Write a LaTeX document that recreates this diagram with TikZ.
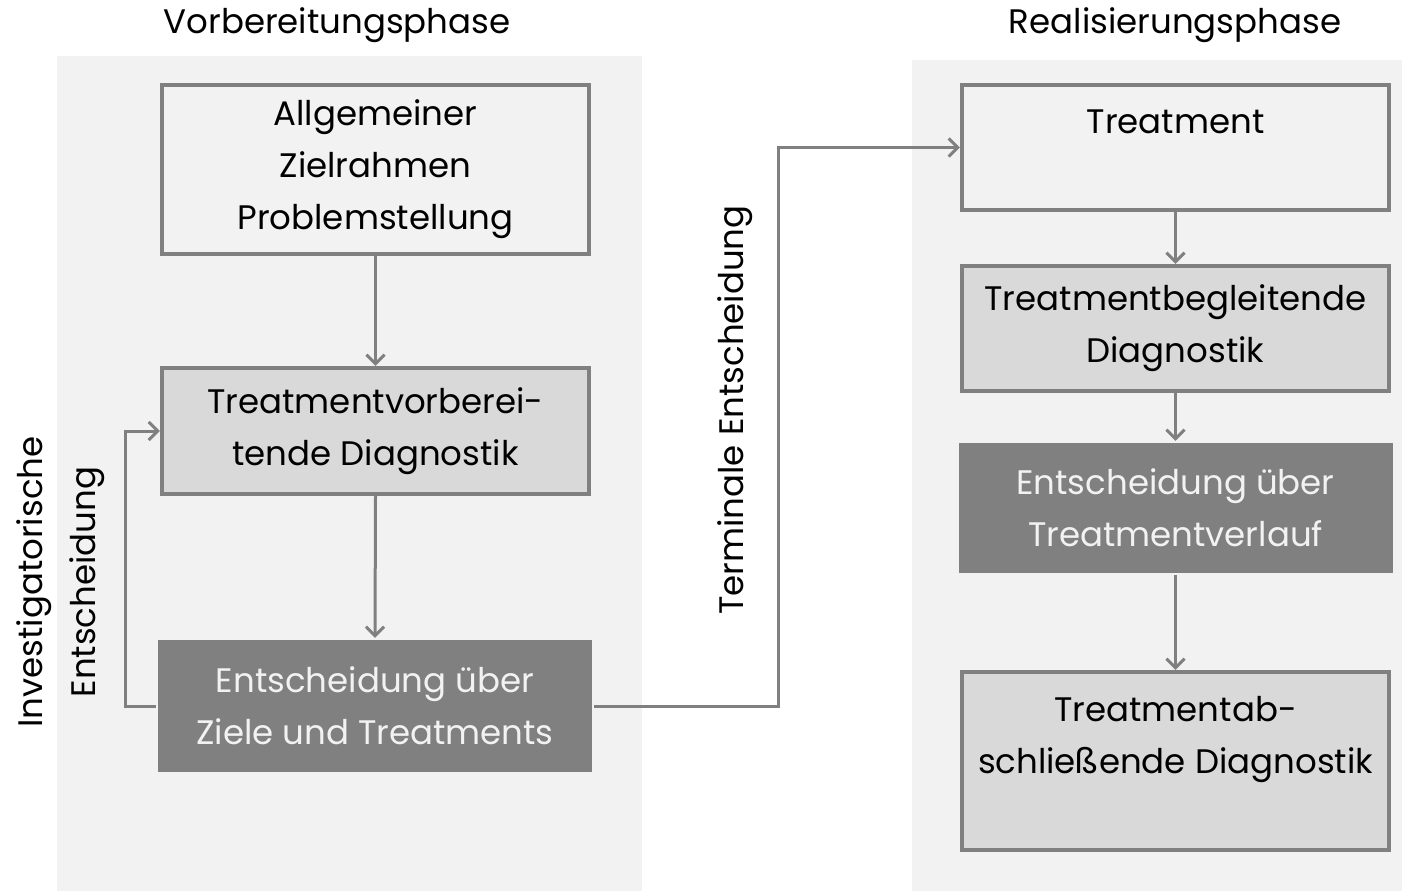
\documentclass[tikz,border=0pt]{standalone}
\usepackage{fontspec}
\setmainfont{Poppins}
\usetikzlibrary{arrows.meta}
\definecolor{panelgray}{HTML}{F2F2F2}
\definecolor{boxgray}{HTML}{D9D9D9}
\definecolor{linegray}{HTML}{808080}
\tikzset{
  stepbox/.style={draw=linegray, line width=2.2pt, align=center, inner sep=0pt,
    font=\fontsize{17}{26}\selectfont, minimum width=213.5pt},
  lightbox/.style={stepbox, fill=panelgray},
  midbox/.style={stepbox, fill=boxgray},
  darkbox/.style={stepbox, draw=none, fill=linegray, text=panelgray, minimum width=217pt},
  conn/.style={linegray, line width=1.5pt, -{Straight Barb[length=4.5pt,width=9pt]}},
  phase/.style={font=\fontsize{17}{26}\selectfont},
  decision/.style={font=\fontsize{17}{26.5}\selectfont, rotate=90, align=center}
}
\begin{document}
\begin{tikzpicture}[x=0.5pt,y=-0.5pt]
\useasboundingbox (0,0) rectangle (1402,891);
\fill[panelgray] (57,56) rectangle (642,891);
\fill[panelgray] (912,60) rectangle (1402,891);

% Vorbereitungsphase
\node[phase] (prephase) at (337,25) {Vorbereitungsphase};
\node[lightbox, minimum height=84.5pt] (frame) at (375.5,169.5) {Allgemeiner\\Zielrahmen\\Problemstellung};
\node[midbox, minimum height=63pt] (prediag) at (375.5,431) {Treatmentvorberei-\\tende Diagnostik};
\node[darkbox, minimum height=66pt] (decide) at (375,706) {Entscheidung über\\Ziele und Treatments};

% Realisierungsphase
\node[phase] (realphase) at (1175,25) {Realisierungsphase};
\node[lightbox, minimum height=62.5pt] (treat) at (1175.5,147.5) {Treatment\\ \mbox{}};
\node[midbox, minimum height=62.5pt] (accdiag) at (1175.5,328.5) {Treatmentbegleitende\\Diagnostik};
\node[darkbox, minimum height=65pt] (course) at (1175.5,508) {Entscheidung über\\Treatmentverlauf};
\node[midbox, minimum height=89pt] (findiag) at (1175.5,761) {Treatmentab-\\schließende Diagnostik\\ \mbox{}};

\draw[conn] (frame.south) -- (prediag.north);
\draw[conn] (prediag.south) -- (decide.north);
\draw[conn] (treat.south) -- (accdiag.north);
\draw[conn] (accdiag.south) -- (course.north);
\draw[conn] (course.south) -- (findiag.north);

% Rueckkopplung und Uebergang
\draw[conn] (decide.west) -- ++(-30,0) |- (prediag.west);
\draw[conn] (decide.east) -- ++(184,0) |- (treat.west);
\node[decision] (invest) at (61,582) {Investigatorische\\Entscheidung};
\node[decision] (terminal) at (735,410) {Terminale Entscheidung};

\end{tikzpicture}
\end{document}
